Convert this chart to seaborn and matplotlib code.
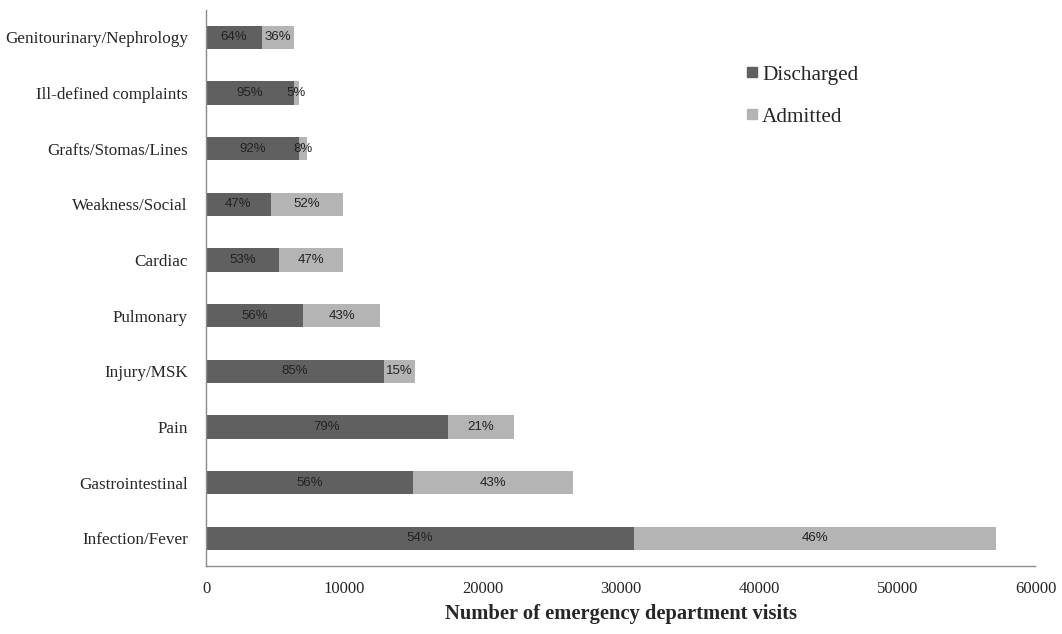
import matplotlib
matplotlib.use("Agg")
import matplotlib.pyplot as plt
import seaborn as sns
import pandas as pd
import numpy as np
from matplotlib.lines import Line2D

categories = ["Genitourinary/Nephrology", "Ill-defined complaints", "Grafts/Stomas/Lines",
              "Weakness/Social", "Cardiac", "Pulmonary", "Injury/MSK", "Pain",
              "Gastrointestinal", "Infection/Fever"]
discharged = [4050, 6350, 6700, 4690, 5250, 7050, 12840, 17490, 14950, 30950]
admitted = [2290, 350, 570, 5200, 4630, 5510, 2250, 4790, 11590, 26200]
discharged_pct = ["64%", "95%", "92%", "47%", "53%", "56%", "85%", "79%", "56%", "54%"]
admitted_pct = ["36%", "5%", "8%", "52%", "47%", "43%", "15%", "21%", "43%", "46%"]
xticks = [0, 10000, 20000, 30000, 40000, 50000, 60000]

dark = "#606060"
light = "#b4b4b4"
axis_col = "#8c8c8c"

df = pd.DataFrame({"category": categories, "Discharged": discharged, "Admitted": admitted})
df["Total"] = df["Discharged"] + df["Admitted"]

sns.set_style("white")
serif = ["Liberation Serif", "DejaVu Serif"]
sans = ["Liberation Sans", "DejaVu Sans"]

fig = plt.figure(figsize=(10.62, 6.34), dpi=100)
ax = fig.add_axes([0.194, 0.107, 0.781, 0.878])

sns.barplot(data=df, y="category", x="Total", order=categories, color=light,
            width=0.42, saturation=1, ax=ax, orient="h", linewidth=0)
sns.barplot(data=df, y="category", x="Discharged", order=categories, color=dark,
            width=0.42, saturation=1, ax=ax, orient="h", linewidth=0)

for i, (d, a) in enumerate(zip(discharged, admitted)):
    ax.text(d / 2, i, discharged_pct[i], ha="center", va="center", fontsize=9.5,
            family=sans, color="#222222")
    ax.text(d + a / 2, i, admitted_pct[i], ha="center", va="center", fontsize=9.5,
            family=sans, color="#222222")

ax.set_xlim(0, 60000)
ax.set_ylim(9.5, -0.5)
ax.set_xticks(xticks)
ax.set_xticklabels([str(t) for t in xticks], family=serif, fontsize=12)
ax.set_yticks(range(len(categories)))
ax.set_yticklabels(categories, family=serif, fontsize=12.3)
ax.set_yticks(np.arange(-0.5, len(categories), 1.0), minor=True)
ax.tick_params(axis="y", which="major", length=0, pad=13)
ax.tick_params(axis="y", which="minor", length=5, color=axis_col, direction="out")
ax.tick_params(axis="x", which="major", length=5, color=axis_col, direction="out", pad=6)
ax.set_ylabel("")
ax.set_xlabel("Number of emergency department visits", family=serif, fontsize=14.8,
              fontweight="bold", labelpad=5)

for s in ["top", "right"]:
    ax.spines[s].set_visible(False)
for s in ["left", "bottom"]:
    ax.spines[s].set_color(axis_col)
    ax.spines[s].set_linewidth(1.0)

handles = [Line2D([0], [0], marker="s", linestyle="", markersize=7.5, color=dark),
           Line2D([0], [0], marker="s", linestyle="", markersize=7.5, color=light)]
ax.legend(handles, ["Discharged", "Admitted"], loc="upper left",
          bbox_to_anchor=(0.627, 0.935), frameon=False, handlelength=0.6,
          handletextpad=0.2, labelspacing=1.05, prop={"family": serif, "size": 15.3})

fig.savefig("out.png", dpi=100)
